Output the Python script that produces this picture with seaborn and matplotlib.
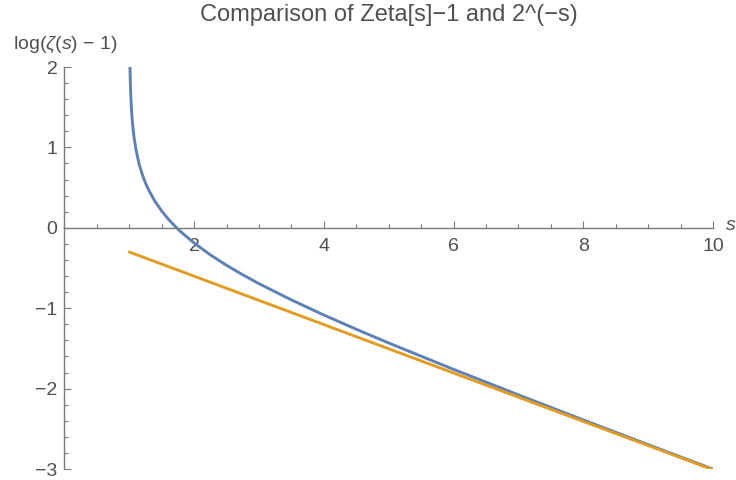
import numpy as np
import pandas as pd
import matplotlib
matplotlib.use("Agg")
import matplotlib.pyplot as plt
from matplotlib.ticker import MultipleLocator, FixedLocator
import seaborn as sns

# ── data ──
s_zeta = [1.009, 1.01, 1.015, 1.02, 1.03, 1.04, 1.05, 1.07, 1.1, 1.15, 1.2, 1.25,
          1.3, 1.4, 1.5, 1.6, 1.7, 1.8, 2.0, 2.25, 2.5, 2.75, 3.0, 3.5, 4.0, 4.5,
          5.0, 6.0, 7.0, 8.0, 9.0, 10.0]
log_zeta = [2.044, 1.998, 1.821, 1.695, 1.517, 1.391, 1.292, 1.142, 0.982, 0.796,
            0.662, 0.556, 0.467, 0.323, 0.208, 0.109, 0.023, -0.054, -0.190, -0.337,
            -0.467, -0.585, -0.695, -0.897, -1.085, -1.262, -1.433, -1.761, -2.078,
            -2.390, -2.697, -3.002]
s_pow = [1.0, 10.0]
log_pow = [-0.301, -3.010]

x_major = [2, 4, 6, 8, 10]
y_major = [-3, -2, -1, 0, 1, 2]

BLUE = "#5E81B5"
ORANGE = "#E19C24"
AX = "#7a7a7a"
TXT = "#505050"

sns.set_style("ticks")
plt.rcParams["font.family"] = ["Liberation Sans", "DejaVu Sans"]
plt.rcParams["mathtext.fontset"] = "custom"
plt.rcParams["mathtext.rm"] = "Liberation Sans"
plt.rcParams["mathtext.it"] = "Liberation Sans:style=italic"

df_z = pd.DataFrame({"s": s_zeta, "y": log_zeta})
df_p = pd.DataFrame({"s": s_pow, "y": log_pow})

fig = plt.figure(figsize=(7.36, 4.8), dpi=100)
ax = fig.add_axes([0.0876, 0.0229, 0.8812, 0.8375])

sns.lineplot(data=df_z, x="s", y="y", ax=ax, color=BLUE, linewidth=2.1)
sns.lineplot(data=df_p, x="s", y="y", ax=ax, color=ORANGE, linewidth=2.1)

ax.set_xlim(0, 10)
ax.set_ylim(-3, 2)
ax.set_xlabel("")
ax.set_ylabel("")

# Mathematica-style axes crossing at the origin
ax.spines["left"].set_position(("data", 0))
ax.spines["bottom"].set_position(("data", 0))
ax.spines["top"].set_visible(False)
ax.spines["right"].set_visible(False)
for sp in ("left", "bottom"):
    ax.spines[sp].set_color(AX)
    ax.spines[sp].set_linewidth(1.0)

ax.xaxis.set_major_locator(FixedLocator(x_major))
ax.xaxis.set_minor_locator(MultipleLocator(0.5))
ax.yaxis.set_major_locator(FixedLocator(y_major))
ax.yaxis.set_minor_locator(MultipleLocator(0.2))
ax.tick_params(which="both", direction="in", color=AX, width=0.8,
               labelcolor=TXT, labelsize=14, bottom=True, left=True,
               top=False, right=False)
ax.tick_params(which="major", length=5)
ax.tick_params(which="minor", length=3)
ax.tick_params(axis="x", pad=7)
ax.tick_params(axis="y", pad=5)
ax.set_xticklabels([str(v) for v in x_major])
ax.set_yticklabels([f"{v}".replace("-", "\u2212") for v in y_major])

fig.text(0.528, 0.969, "Comparison of Zeta[s]\u22121 and 2^(\u2212s)",
         fontsize=17, color=TXT, ha="center", va="center")
fig.text(0.0177, 0.908, r"log($\zeta$($s$) $-$ 1)", fontsize=14, color=TXT,
         ha="left", va="center")
fig.text(0.987, 0.531, "s", fontsize=14, color=TXT, style="italic",
         ha="left", va="center")

fig.savefig("out.png", dpi=100)
